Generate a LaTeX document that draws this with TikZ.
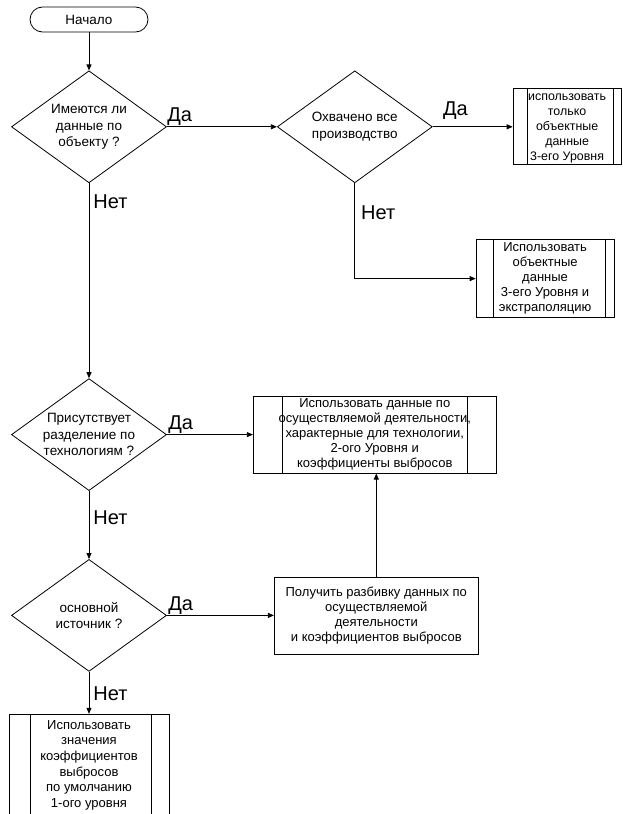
\documentclass[tikz,border=0pt]{standalone}
\usepackage{fontspec}
\setmainfont{Liberation Sans}
\usetikzlibrary{arrows.meta,positioning,shapes.geometric,calc}
\tikzset{
    line/.style   = {-{Triangle[length=6pt,width=5pt]}, line width=0.8pt, draw=black},
    block/.style  = {draw=black, line width=0.8pt, fill=white,
            align=center, inner sep=0pt, font=\fontsize{13}{15}\selectfont},
    predef/.style 2 args = {block, path picture={
            \draw[line width=0.8pt] ([xshift=#1]path picture bounding box.north west) -- ([xshift=#1]path picture bounding box.south west);
            \draw[line width=0.8pt] ([xshift=-#2]path picture bounding box.north east) -- ([xshift=-#2]path picture bounding box.south east);}},
    decision/.style = {diamond, draw=black, line width=0.8pt,
            minimum width=155pt, minimum height=112pt,
            aspect=1.38, inner sep=0pt, align=center,
            font=\fontsize{13.5}{16.5}\selectfont},
    terminal/.style = {draw=black, line width=0.8pt, rounded corners=12.5pt,
            minimum width=118pt, minimum height=25pt, inner sep=0pt,
            font=\fontsize{13.5}{15}\selectfont},
    lbl/.style = {font=\fontsize{20}{20}\selectfont, inner sep=1pt},
}
\begin{document}
\begin{tikzpicture}
    \useasboundingbox (0,0) rectangle (622pt,-814pt);
    \clip (0,0) rectangle (622pt,-814pt);

    % Nodes
    \node[terminal] (start) at (89pt,-19.5pt) {Начало};
    \node[decision, below=38pt of start] (d1) {Имеются ли\\данные по\\объекту ?};
    \node[decision, right=110pt of d1] (d2) {Охвачено все\\производство};
    \node[predef={14pt}{8pt}, minimum width=108pt, minimum height=76pt, right=80pt of d2,
          font=\fontsize{12.4}{15}\selectfont, text depth=-6pt] (lvl3) {использовать\\только\\объектные\\данные\\3-его Уровня};
    \node[predef={17pt}{9pt}, minimum width=138pt, minimum height=78pt, below=74pt of lvl3, xshift=-22pt] (extra) {Использовать\\объектные\\данные\\3-его Уровня и\\экстраполяцию};
    \node[decision, below=195pt of d1] (d3) {Присутствует\\разделение по\\технологиям ?};
    \node[predef={29pt}{29pt}, minimum width=243pt, minimum height=77pt, right=86pt of d3] (lvl2) {Использовать данные по\\осуществляемой деятельности,\\характерные для технологии,\\2-ого Уровня и\\коэффициенты выбросов};
    \node[decision, below=68pt of d3] (d4) {основной\\источник ?};
    \node[block, minimum width=204pt, minimum height=77pt, right=107pt of d4] (split) {Получить разбивку данных по\\осуществляемой\\деятельности\\и коэффициентов выбросов};
    \node[predef={21pt}{18pt}, minimum width=160pt, minimum height=102pt, below=42pt of d4,
          font=\fontsize{13}{15.6}\selectfont] (lvl1) {Использовать\\значения\\коэффициентов\\выбросов\\по умолчанию\\1-ого уровня};

    % Arrows
    \draw[line] (start) -- (d1);
    \draw[line] (d1.east) -- node[lbl, pos=0, anchor=south west, xshift=-1pt]{Да} (d2.west);
    \draw[line] (d2.east) -- node[lbl, pos=0, anchor=south west, xshift=9pt, yshift=6pt]{Да} (lvl3.west);
    \draw[line] (d1.south) -- node[lbl, pos=0, anchor=north west, xshift=3pt, yshift=-10pt]{Нет} (d3.north);
    \draw[line] (d2.south) |- node[lbl, pos=0, anchor=north west, xshift=5pt, yshift=-21pt]{Нет} (extra.west);
    \draw[line] (d3.east) -- node[lbl, pos=0, anchor=south west]{Да} (lvl2.west);
    \draw[line] (d3.south) -- node[lbl, pos=0, anchor=north west, xshift=3pt, yshift=-18pt]{Нет} (d4.north);
    \draw[line] (d4.east) -- node[lbl, pos=0, anchor=south west]{Да} (split.west);
    \draw[line] (d4.south) -- node[lbl, pos=0, anchor=north west, xshift=3pt, yshift=-14pt]{Нет} (lvl1.north);
    \draw[line] (split.north) -- (split.north |- lvl2.south);
\end{tikzpicture}
\end{document}
